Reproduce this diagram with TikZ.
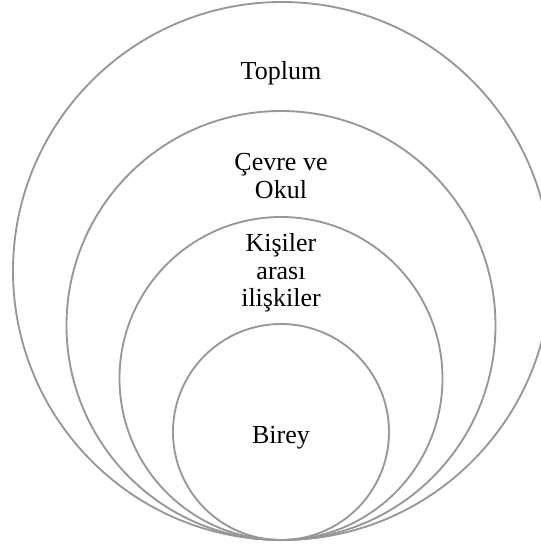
\documentclass[tikz,border=0pt]{standalone}
\usepackage{fontspec}
\setmainfont{Liberation Serif}
\definecolor{ringgray}{HTML}{979797}

\tikzset{
  ring/.style={draw=ringgray,line width=1.4pt},
  ringtext/.style={font=\fontsize{19.5}{20.7}\selectfont,align=center,inner sep=0pt}
}

\begin{document}
\begin{tikzpicture}[x=0.75pt,y=-0.75pt]

\useasboundingbox (0,0) rectangle (541,544);
\clip (0,0) rectangle (541,544);

% Nested rings, all touching at the bottom
\draw[ring] (282,271) circle[radius=269];
\draw[ring] (281,325.5) circle[radius=214.5];
\draw[ring] (281,378.5) circle[radius=161.5];
\draw[ring] (281,432) circle[radius=108];

% Ring labels
\node[ringtext] (toplum) at (281,73) {Toplum};

\node[ringtext] (cevre) at (281,176) {Çevre ve\\Okul};

\node[ringtext] (kisiler) at (281,273) {Kişiler\\arası\\ilişkiler};

\node[ringtext] (birey) at (281,438) {Birey};

\end{tikzpicture}
\end{document}
